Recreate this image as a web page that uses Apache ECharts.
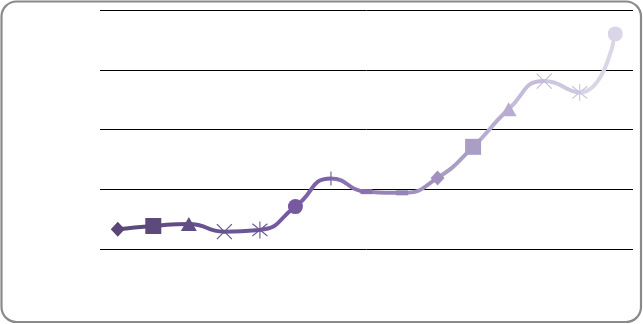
<!DOCTYPE html>
<html>
<head>
<meta charset="utf-8">
<script src="https://cdn.jsdelivr.net/npm/echarts@6/dist/echarts.min.js"></script>
<style>html,body{margin:0;padding:0;background:#fff}#c{width:643px;height:324px}</style>
</head>
<body>
<div id="c"></div>
<script>
const categories = ['1','2','3','4','5','6','7','8','9','10','11','12','13','14','15'];
const values = [0.33, 0.385, 0.42, 0.29, 0.32, 0.71, 1.18, 0.96, 0.94, 1.19, 1.71, 2.34, 2.81, 2.62, 3.60];
const markers = ['diamond','square','triangle','x','star','circle','plus','dash','dash','diamond','square','triangle','x','star','circle'];
const colors = ['#5b4577','#5d4a7d','#614c86','#67528f','#6c5696','#76599e','#7c61a6','#8a72b1','#9684b8','#a291be','#ab9ec4','#b8acd0','#c4bcda','#cdc7e0','#dad5e7'];

const symbolDefs = {
  diamond: {symbol: 'diamond', size: [14, 15], stroke: false},
  square: {symbol: 'rect', size: 16, stroke: false},
  triangle: {symbol: 'triangle', size: [16, 14], stroke: false},
  circle: {symbol: 'circle', size: 15, stroke: false},
  x: {symbol: 'path://M0,0L10,10M10,0L0,10', size: 15, stroke: true},
  star: {symbol: 'path://M0,0L10,10M10,0L0,10M5,-2L5,12', size: [15, 17], stroke: true},
  plus: {symbol: 'path://M5,0L5,10M0,5L10,5', size: 14, stroke: true},
  dash: {symbol: 'rect', size: [12, 5], stroke: false}
};

const data = values.map((v, i) => {
  const d = symbolDefs[markers[i]];
  return {
    value: v,
    symbol: d.symbol,
    symbolSize: d.size,
    itemStyle: d.stroke
      ? {color: colors[i], borderColor: colors[i], borderWidth: 1.2}
      : {color: colors[i], borderWidth: 0}
  };
});

const pieces = colors.map((c, i) => i === 0 ? {lte: 0, color: c} : {gt: i - 1, lte: i, color: c});

const chart = echarts.init(document.getElementById('c'), null, {renderer: 'canvas'});
chart.setOption({
  animation: false,
  backgroundColor: '#fff',
  grid: {left: 100, right: 10, top: 10, bottom: 75, containLabel: false},
  xAxis: {
    type: 'category',
    data: categories,
    boundaryGap: true,
    axisLine: {show: false},
    axisTick: {show: false},
    axisLabel: {show: false},
    splitLine: {show: false}
  },
  yAxis: {
    type: 'value',
    min: 0, max: 4, interval: 1,
    axisLine: {show: false},
    axisTick: {show: false},
    axisLabel: {show: false},
    splitLine: {show: true, lineStyle: {color: '#000', width: 1}}
  },
  visualMap: {
    show: false,
    type: 'piecewise',
    dimension: 0,
    seriesIndex: 0,
    pieces: pieces
  },
  graphic: [{
    type: 'rect',
    shape: {x: 1.5, y: 1.5, width: 639.5, height: 320.5, r: 15},
    style: {fill: 'none', stroke: '#8a8a8a', lineWidth: 2.2},
    z: 100
  }],
  series: [{
    type: 'line',
    data: data,
    smooth: 0.55,
    showAllSymbol: true,
    lineStyle: {width: 4},
    z: 3
  }]
});
</script>
</body>
</html>
